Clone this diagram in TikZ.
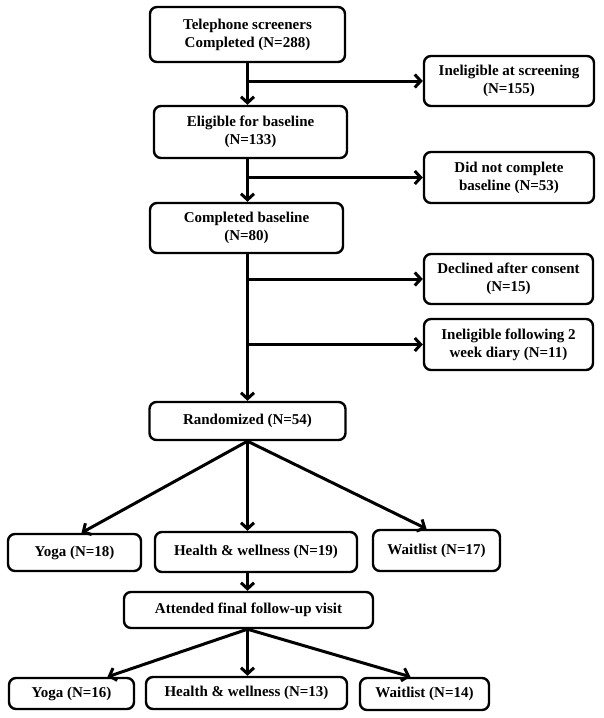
\documentclass[tikz,border=0pt]{standalone}
\usepackage{fontspec}
\setmainfont{Liberation Serif}
\usetikzlibrary{arrows.meta}
\begin{document}
\begin{tikzpicture}[x=1pt,y=-1pt,
  box/.style={draw,line width=2.4pt,rounded corners=7pt,inner sep=0pt,align=center,
    font=\fontsize{15}{18}\selectfont\bfseries},
  arr/.style={line width=3pt,-{Straight Barb[length=6pt,width=13pt,line width=3pt]}}]
\useasboundingbox (0,0) rectangle (604,718);
\node[box,minimum width=195pt,minimum height=55pt] (tel) at (247.5,34.5) {Telephone screeners\\Completed (N=288)};
\node[box,minimum width=170pt,minimum height=50pt] (inel1) at (509,81) {Ineligible at screening\\(N=155)};
\node[box,minimum width=193pt,minimum height=52pt] (elig) at (250.5,132) {Eligible for baseline\\(N=133)};
\node[box,minimum width=170pt,minimum height=51pt] (dnc) at (509,177.5) {Did not complete\\baseline (N=53)};
\node[box,minimum width=193pt,minimum height=50pt] (comp) at (246.5,228) {Completed baseline\\(N=80)};
\node[box,minimum width=169pt,minimum height=50pt] (decl) at (508.5,279) {Declined after consent\\(N=15)};
\node[box,minimum width=169pt,minimum height=51pt] (inel2) at (508.5,344.5) {Ineligible following 2\\week diary (N=11)};
\node[box,minimum width=196pt,minimum height=38pt] (rand) at (247.5,421) {Randomized (N=54)};
\node[box,minimum width=133pt,minimum height=37pt] (yoga1) at (74.5,552.5) {Yoga (N=18)};
\node[box,minimum width=202pt,minimum height=40pt] (hw1) at (256,552) {Health \& wellness (N=19)};
\node[box,minimum width=127pt,minimum height=41pt] (wait1) at (436.5,550.5) {Waitlist (N=17)};
\node[box,minimum width=249pt,minimum height=36pt] (att) at (248.5,610) {Attended final follow-up visit};
\node[box,minimum width=125pt,minimum height=31pt] (yoga2) at (71.5,693.5) {Yoga (N=16)};
\node[box,minimum width=201pt,minimum height=32pt] (hw2) at (246.5,693) {Health \& wellness (N=13)};
\node[box,minimum width=129pt,minimum height=32pt] (wait2) at (424.5,694) {Waitlist (N=14)};
% spine
\draw[arr] (tel.south) -- (tel.south |- elig.north);
\draw[arr] (tel.south |- inel1.west) -- (inel1.west);
\draw[arr] (tel.south |- elig.south) -- (tel.south |- comp.north);
\draw[arr] (tel.south |- dnc.west) -- (dnc.west);
\draw[arr] (tel.south |- comp.south) -- (tel.south |- rand.north);
\draw[arr] (tel.south |- decl.west) -- (decl.west);
\draw[arr] (tel.south |- inel2.west) -- (inel2.west);
% randomization
\draw[arr] (rand.south) -- ([xshift=7pt]yoga1.north);
\draw[arr] (rand.south) -- (rand.south |- hw1.north);
\draw[arr] (rand.south) -- ([xshift=-10pt]wait1.north);
\draw[arr] (rand.south |- hw1.south) -- (rand.south |- att.north);
% follow-up
\draw[arr] (rand.south |- att.south) -- ([xshift=36pt]yoga2.north);
\draw[arr] (rand.south |- att.south) -- (rand.south |- hw2.north);
\draw[arr] (rand.south |- att.south) -- ([xshift=-14pt]wait2.north);
\end{tikzpicture}
\end{document}
